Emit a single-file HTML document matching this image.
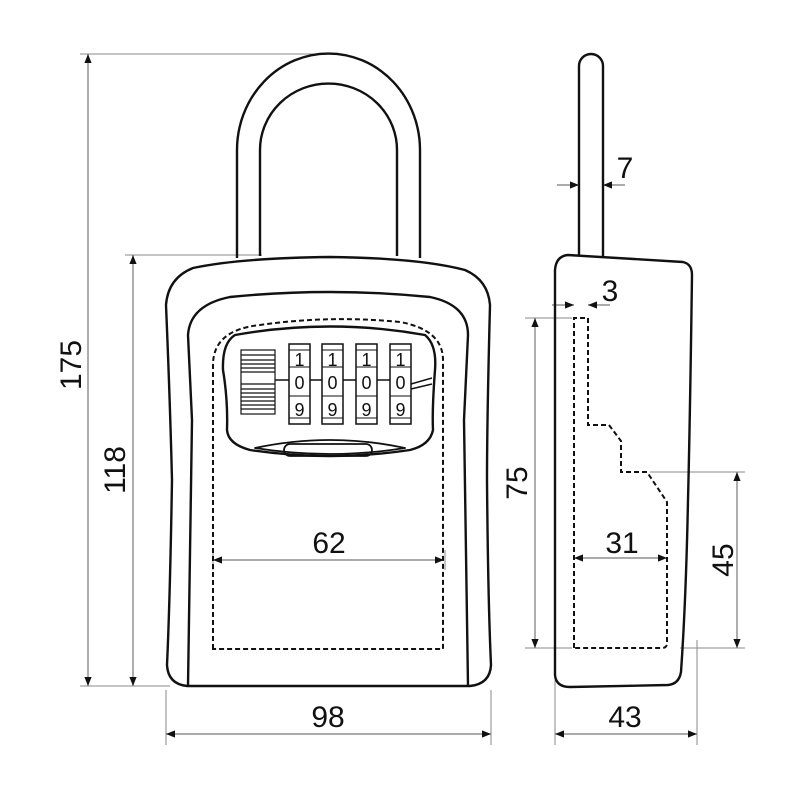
<!DOCTYPE html>
<html><head><meta charset="utf-8"><style>body{margin:0;background:#fff}svg{display:block}text{font-family:"Liberation Sans",sans-serif;fill:#111}</style></head><body>
<svg width="800" height="800" viewBox="0 0 800 800" xmlns="http://www.w3.org/2000/svg">
<defs><marker id="a" viewBox="0 0 10 10" refX="10" refY="5" markerWidth="12" markerHeight="9" orient="auto-start-reverse" markerUnits="userSpaceOnUse"><path d="M0,1 L10,5 L0,9Z" fill="#111"/></marker></defs>
<g stroke="#888" stroke-width="1" fill="none">
<line x1="80" y1="54" x2="330" y2="54"/>
<line x1="125" y1="255" x2="262" y2="255"/>
<line x1="80" y1="686" x2="170" y2="686"/>
<line x1="166" y1="690" x2="166" y2="745"/>
<line x1="491" y1="690" x2="491" y2="745"/>
<line x1="555" y1="660" x2="555" y2="745"/>
<line x1="697" y1="640" x2="697" y2="745"/>
<line x1="525" y1="318" x2="572" y2="318"/>
<line x1="525" y1="648" x2="572" y2="648"/>
<line x1="650" y1="472" x2="745" y2="472"/>
<line x1="680" y1="648" x2="745" y2="648"/>
<line x1="213" y1="550" x2="213" y2="570"/>
<line x1="445" y1="550" x2="445" y2="570"/>
</g>
<g stroke="#777" stroke-width="1.2" fill="none">
<line x1="88" y1="54" x2="88" y2="686" marker-start="url(#a)" marker-end="url(#a)"/>
<line x1="133" y1="255" x2="133" y2="686" marker-start="url(#a)" marker-end="url(#a)"/>
<line x1="166" y1="734" x2="491" y2="734" marker-start="url(#a)" marker-end="url(#a)"/>
<line x1="213" y1="560" x2="444" y2="560" marker-start="url(#a)" marker-end="url(#a)"/>
<line x1="555" y1="734" x2="697" y2="734" marker-start="url(#a)" marker-end="url(#a)"/>
<line x1="574" y1="558" x2="667" y2="558" marker-start="url(#a)" marker-end="url(#a)"/>
<line x1="535" y1="318" x2="535" y2="648" marker-start="url(#a)" marker-end="url(#a)"/>
<line x1="737" y1="472" x2="737" y2="648" marker-start="url(#a)" marker-end="url(#a)"/>
<line x1="557" y1="185" x2="579" y2="185" marker-end="url(#a)"/>
<line x1="625" y1="185" x2="603" y2="185" marker-end="url(#a)"/>
<line x1="552" y1="305" x2="574" y2="305" marker-end="url(#a)"/>
<line x1="610" y1="305" x2="588" y2="305" marker-end="url(#a)"/>
</g>
<g stroke="#111" stroke-width="2.4" fill="none" stroke-linejoin="round">
<path d="M237,258 V150 A91,96 0 0 1 420,150 V258"/>
<path d="M260,256 V150 A68,66 0 0 1 397,150 V256"/>
<path d="M330,257 Q420,258 465,270 Q488,280 490,305 Q487,420 487,480 Q488,600 491,665 Q490,684 470,686 H187 Q168,684 167,665 Q170,600 172,480 Q170,400 166,305 Q168,278 193,268 Q240,258 330,257Z"/>
<path d="M188,686 L192,420 L188,335 Q190,305 230,297 Q330,287 430,297 Q468,305 468,335 L464,420 L468,686"/>
<path d="M235,335 Q330,318 425,335 Q437,345 435,370 Q432,410 433,430 Q430,445 410,450 Q330,462 250,450 Q228,444 227,430 Q228,400 223,370 Q222,343 235,335Z"/>
<path d="M255,448 Q330,432 405,448 Q330,460 255,448Z" stroke-width="1.8"/>
<rect x="284" y="444" width="88" height="12" rx="6" stroke-width="1.8"/>
</g>
<path d="M213,649 V365 Q213,330 260,325 Q330,315 400,322 Q443,330 443,360 V649Z" fill="none" stroke="#111" stroke-width="2" stroke-dasharray="5,3"/>
<g stroke="#111" stroke-width="1.2" fill="none">
<rect x="241" y="350" width="34" height="64"/>
<path d="M241,355H275M241,360H275M241,364H275M241,368H275M241,372H275M241,384H275M241,389H275M241,393H275M241,397H275M241,401H275M241,405H275M241,409H275"/>
<path d="M275,380H289M310,380H322M343,380H356M377,380H390M411,384L432,378M411,389L432,384" stroke-width="1.5"/>
</g>
<g stroke="#111" stroke-width="1.5" fill="#fff">
<rect x="289" y="344" width="21" height="80"/><rect x="322" y="344" width="21" height="80"/><rect x="356" y="344" width="21" height="80"/><rect x="390" y="344" width="21" height="80"/>
<path d="M289,350H310M289,367H310M289,396H310M289,418H310M322,350H343M322,367H343M322,396H343M322,418H343M356,350H377M356,367H377M356,396H377M356,418H377M390,350H411M390,367H411M390,396H411M390,418H411" fill="none" stroke-width="1"/>
</g>
<g font-size="18" text-anchor="middle">
<text x="299.5" y="366">1</text><text x="332.5" y="366">1</text><text x="366.5" y="366">1</text><text x="400.5" y="366">1</text>
<text x="299.5" y="389">0</text><text x="332.5" y="389">0</text><text x="366.5" y="389">0</text><text x="400.5" y="389">0</text>
<text x="299.5" y="416">9</text><text x="332.5" y="416">9</text><text x="366.5" y="416">9</text><text x="400.5" y="416">9</text>
</g>
<g stroke="#111" stroke-width="2.4" fill="none" stroke-linejoin="round">
<path d="M579,256 V66 A12,12 0 0 1 603,66 V256"/>
<path d="M568,255 L683,262 Q692,264 692,275 Q690,420 688,500 Q686,600 681,672 Q679,684 668,685 L570,687 Q556,687 555,675 L555,270 Q556,256 568,255Z"/>
</g>
<path d="M574,648 V318 H588 V425 H609 L621,441 V472 H647 L667,502 V643 Q667,648 662,648 Z" fill="none" stroke="#111" stroke-width="2" stroke-dasharray="5,3"/>
<g font-size="30" text-anchor="middle">
<text x="329" y="553">62</text>
<text x="328" y="727">98</text>
<text x="625" y="727">43</text>
<text x="622" y="553">31</text>
<text x="625" y="178">7</text>
<text x="610" y="301">3</text>
<text transform="translate(81,365) rotate(-90)">175</text>
<text transform="translate(125,470) rotate(-90)">118</text>
<text transform="translate(527,483) rotate(-90)">75</text>
<text transform="translate(733,560) rotate(-90)">45</text>
</g>
</svg>
</body></html>
